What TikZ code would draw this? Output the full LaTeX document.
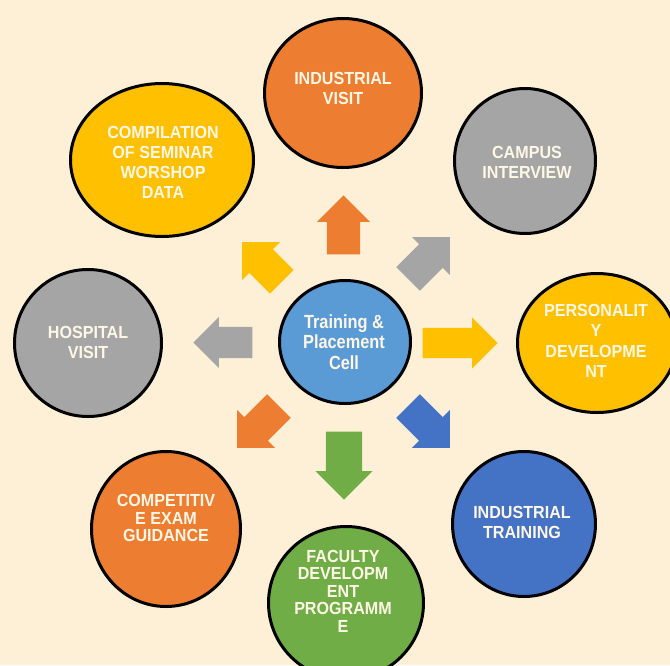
\documentclass[tikz,border=0pt]{standalone}
\usepackage{fontspec}
\setmainfont{Liberation Sans}
\newfontfamily\lblfont[FakeStretch=0.92]{Liberation Sans}
\newfontfamily\ctrfont[FakeStretch=0.86]{Liberation Sans}
\usetikzlibrary{shapes.geometric,shapes.arrows}
\definecolor{bgc}{HTML}{FDF0D6}
\definecolor{orng}{HTML}{ED7D31}
\definecolor{gry}{HTML}{A5A5A5}
\definecolor{gold}{HTML}{FFC000}
\definecolor{dblue}{HTML}{4472C4}
\definecolor{lblue}{HTML}{5B9BD5}
\definecolor{grn}{HTML}{70AD47}
\definecolor{txtc}{HTML}{FFF7E6}
\begin{document}
\begin{tikzpicture}[x=1pt,y=-1pt,
  bub/.style={ellipse, draw=black, line width=3pt, inner sep=0pt},
  txt/.style={text=txtc, align=center, inner sep=0pt, font=\lblfont\bfseries\fontsize{17.5}{20}\selectfont},
  txtn/.style={txt, font=\lblfont\bfseries\fontsize{17.5}{17.5}\selectfont},
  barrow/.style={single arrow, draw=none, fill=#1, inner xsep=0pt, inner ysep=16.5pt,
    single arrow head extend=10pt, minimum width=53pt, minimum height=59pt, anchor=tip}
]
\useasboundingbox (0,0) rectangle (670,665);
\clip (0,0) rectangle (670,665);
\fill[bgc] (0,0) rectangle (670,665);

% centre
\node[bub, fill=lblue, minimum width=131pt, minimum height=123pt] (c) at (345,342) {};
\node[txt, font=\ctrfont\bfseries\fontsize{19}{20.5}\selectfont] (ct) at (344,342) {Training \&\\Placement\\Cell};

% outer bubbles
\node[bub, fill=orng, minimum width=157pt, minimum height=149pt] (iv) at (343,93) {};
\node[txt] (ivt) at (343,88) {INDUSTRIAL\\VISIT};

\node[bub, fill=gold, minimum width=183pt, minimum height=153pt] (cp) at (162,160) {};
\node[txt] (cpt) at (163,162) {COMPILATION\\OF SEMINAR\\WORSHOP\\DATA};

\node[bub, fill=gry, minimum width=141pt, minimum height=145pt] (ci) at (525,161) {};
\node[txt] (cit) at (527,162) {CAMPUS\\INTERVIEW};

\node[bub, fill=gry, minimum width=147pt, minimum height=147pt] (hv) at (88,343) {};
\node[txt] (hvt) at (88,342) {HOSPITAL\\VISIT};

\node[bub, fill=gold, minimum width=159pt, minimum height=139pt] (pd) at (597,343) {};
\node[txt, font=\lblfont\bfseries\fontsize{17.5}{20.5}\selectfont] (pdt) at (596,341) {PERSONALIT\\Y\\DEVELOPME\\NT};

\node[bub, fill=orng, minimum width=149pt, minimum height=155pt] (ce) at (166,529) {};
\node[txtn] (cet) at (166,518) {COMPETITIV\\E EXAM\\GUIDANCE};

\node[bub, fill=dblue, minimum width=143pt, minimum height=145pt] (it) at (524,524) {};
\node[txt] (itt) at (522,522) {INDUSTRIAL\\TRAINING};

\node[bub, fill=grn, minimum width=155pt, minimum height=153pt] (fd) at (346,603) {};
\node[txtn] (fdt) at (343,591) {FACULTY\\DEVELOPM\\ENT\\PROGRAMM\\E};

% block arrows (placed by their tips)
\node[barrow=orng, rotate=90] (aup) at (343.5,195) {};
\node[barrow=gold, rotate=0, minimum height=75pt, minimum width=51pt, inner ysep=15pt, single arrow head extend=10.5pt] (art) at (498,343) {};
\node[barrow=gry, rotate=180, minimum width=51pt, inner ysep=15.5pt] (alt) at (193,342.5) {};
\node[barrow=grn, rotate=270, minimum height=68pt, minimum width=57pt, inner ysep=18pt, single arrow head extend=10.5pt] (adn) at (344,500) {};
\node[barrow=gry, rotate=45] (ane) at (450,237) {};
\node[barrow=gold, rotate=135, minimum height=56pt] (anw) at (242,242) {};
\node[barrow=orng, rotate=225] (asw) at (237,448) {};
\node[barrow=dblue, rotate=315] (ase) at (450,448) {};
\end{tikzpicture}
\end{document}
